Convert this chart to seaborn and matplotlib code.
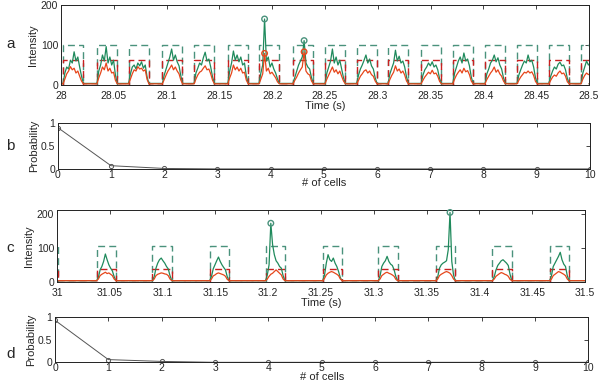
import numpy as np
import pandas as pd
import matplotlib
matplotlib.use('Agg')
import matplotlib.pyplot as plt
import seaborn as sns

# ---- panel a : intensity traces 28.0 - 28.5 s
a_gate_starts = [28.0019, 28.0340, 28.0640, 28.0960, 28.1260, 28.1580, 28.1875, 28.2197, 28.2500,
                 28.2800, 28.3097, 28.3410, 28.3710, 28.4015, 28.4318, 28.4620, 28.4924]
a_gate_width = 0.019
a_green_gate = 100
a_red_gate = 62
a_step = 0.00175
a_green_pulses = [
    [4, 30, 45, 40, 62, 55, 83, 60, 70, 45, 22, 4],
    [4, 35, 50, 75, 60, 96, 55, 70, 50, 62, 25, 4],
    [4, 28, 45, 50, 40, 55, 48, 58, 42, 50, 20, 4],
    [4, 25, 40, 55, 70, 90, 62, 75, 58, 48, 22, 4],
    [4, 30, 42, 55, 50, 68, 82, 60, 65, 45, 20, 4],
    [4, 35, 55, 85, 62, 75, 58, 70, 50, 55, 22, 4],
    [4, 30, 50, 165, 60, 70, 45, 55, 40, 30, 15, 4],
    [4, 20, 35, 50, 60, 70, 111, 55, 45, 40, 18, 4],
    [4, 30, 45, 60, 90, 55, 70, 50, 62, 40, 18, 4],
    [4, 25, 40, 50, 62, 75, 55, 65, 48, 40, 18, 4],
    [4, 28, 42, 55, 87, 60, 72, 55, 60, 45, 20, 4],
    [4, 25, 38, 45, 55, 48, 58, 45, 50, 38, 16, 4],
    [4, 30, 45, 60, 70, 55, 80, 60, 65, 48, 20, 4],
    [4, 28, 40, 55, 62, 75, 58, 68, 50, 40, 18, 4],
    [4, 25, 38, 50, 60, 55, 75, 58, 62, 45, 18, 4],
    [4, 22, 35, 45, 40, 52, 57, 48, 50, 38, 16, 4],
    [4, 30, 45, 60, 50, 55, 48, 50, 45, 35, 15, 4],
]
a_red_pulses = [
    [3, 15, 28, 35, 46, 38, 42, 30, 35, 22, 10, 3],
    [3, 18, 30, 45, 38, 55, 35, 42, 30, 32, 12, 3],
    [3, 15, 28, 38, 35, 46, 40, 42, 35, 38, 14, 3],
    [3, 14, 25, 35, 42, 50, 38, 45, 35, 28, 12, 3],
    [3, 15, 25, 32, 35, 42, 48, 38, 40, 28, 12, 3],
    [3, 18, 30, 50, 38, 45, 35, 42, 30, 32, 12, 3],
    [3, 15, 28, 79, 35, 42, 28, 32, 25, 18, 8, 3],
    [3, 12, 20, 30, 38, 45, 83, 35, 28, 25, 10, 3],
    [3, 15, 25, 35, 45, 32, 38, 28, 35, 22, 10, 3],
    [3, 12, 22, 28, 35, 38, 30, 35, 26, 22, 10, 3],
    [3, 14, 24, 32, 48, 35, 40, 30, 35, 25, 10, 3],
    [3, 12, 20, 26, 32, 28, 37, 28, 30, 22, 9, 3],
    [3, 15, 25, 32, 38, 30, 42, 33, 36, 26, 10, 3],
    [3, 14, 22, 30, 36, 45, 32, 38, 28, 22, 10, 3],
    [3, 12, 20, 26, 32, 30, 35, 30, 33, 24, 9, 3],
    [3, 12, 20, 25, 22, 30, 35, 28, 30, 22, 8, 3],
    [3, 15, 24, 30, 26, 28, 25, 26, 24, 18, 8, 3],
]
a_marked_green = [6, 7]
a_marked_red = [6, 7]

# ---- panel c : intensity traces 31.0 - 31.5 s
c_gate_starts = [30.9830, 31.0375, 31.0904, 31.1446, 31.1975, 31.2517, 31.3043, 31.3589, 31.4124, 31.4666]
c_pulse_starts = [31.0375, 31.0904, 31.1446, 31.1975, 31.2517, 31.3043, 31.3589, 31.4124, 31.4666]
c_gate_width = 0.0183
c_green_gate = 106
c_red_gate = 38
c_step = 0.00166
c_green_pulses = [
    [3, 12, 35, 45, 60, 82, 65, 50, 40, 32, 15, 3],
    [3, 15, 40, 55, 65, 70, 62, 55, 45, 38, 18, 3],
    [3, 15, 38, 50, 62, 73, 60, 50, 42, 35, 15, 3],
    [3, 20, 50, 173, 110, 80, 62, 55, 45, 40, 18, 3],
    [3, 20, 55, 80, 65, 60, 70, 55, 45, 30, 12, 3],
    [3, 18, 45, 55, 62, 75, 60, 52, 48, 35, 15, 3],
    [3, 15, 40, 50, 55, 58, 62, 95, 205, 60, 20, 3],
    [3, 15, 35, 48, 55, 62, 65, 60, 55, 48, 22, 3],
    [3, 18, 45, 55, 65, 75, 87, 65, 52, 45, 18, 3],
]
c_red_pulses = [
    [3, 8, 18, 22, 25, 28, 24, 26, 22, 18, 8, 3],
    [3, 8, 18, 22, 24, 26, 25, 23, 22, 18, 8, 3],
    [3, 8, 17, 20, 24, 26, 24, 22, 20, 16, 7, 3],
    [3, 8, 16, 22, 25, 30, 35, 30, 25, 20, 8, 3],
    [3, 10, 20, 25, 28, 30, 28, 25, 22, 18, 8, 3],
    [3, 8, 18, 22, 26, 28, 25, 23, 20, 16, 7, 3],
    [3, 8, 18, 22, 25, 28, 30, 28, 25, 18, 8, 3],
    [3, 8, 16, 20, 24, 27, 25, 22, 20, 16, 7, 3],
    [3, 8, 18, 22, 26, 30, 28, 25, 22, 18, 8, 3],
]
c_marked_green = [3, 6]

# ---- panels b, d : probability vs number of cells
n_cells = [0, 1, 2, 3, 4, 5, 6, 7, 8, 9, 10]
b_prob = [0.9, 0.07, 0.01, 0, 0, 0, 0, 0, 0, 0, 0]
d_prob = [0.93, 0.06, 0.02, 0, 0, 0, 0, 0, 0, 0, 0]

GREEN = '#1f8a5c'
RED = '#e6461b'
GREEN_DASH = '#4a927c'
RED_DASH = '#c82020'

sns.set_style('white')
plt.rcParams['font.family'] = ['Liberation Sans', 'DejaVu Sans']
plt.rcParams['font.size'] = 8


def trace_frame(starts, pulses, step, t0, t1, base=3):
    t = [t0]
    v = [base]
    for s, p in zip(starts, pulses):
        for k, val in enumerate(p):
            t.append(s + k * step)
            v.append(val)
    t.append(t1)
    v.append(base)
    return pd.DataFrame({'t': t, 'v': v})


def gate_frame(starts, width, level):
    t, v = [], []
    for s in starts:
        t += [s, s, s + width, s + width]
        v += [0, level, level, 0]
    return pd.DataFrame({'t': t, 'v': v})


def style_axes(ax, xpad):
    ax.tick_params(direction='in', top=True, right=True, length=3, width=0.6, labelsize=7.5)
    ax.tick_params(axis='y', pad=2)
    ax.tick_params(axis='x', pad=xpad)
    for sp in ax.spines.values():
        sp.set_visible(True)
        sp.set_color('#222222')
        sp.set_linewidth(0.7)


def intensity_panel(ax, gate_starts, pulse_starts, width, step, green_p, red_p,
                    g_level, r_level, t0, t1, ytop, yticks, mk_green, mk_red):
    gg = gate_frame(gate_starts, width, g_level)
    rg = gate_frame(gate_starts, width, r_level)
    sns.lineplot(data=gg, x='t', y='v', ax=ax, sort=False, estimator=None,
                 color=GREEN_DASH, linestyle=(0, (5, 3)), linewidth=1.0)
    sns.lineplot(data=rg, x='t', y='v', ax=ax, sort=False, estimator=None,
                 color=RED_DASH, linestyle=(0, (5, 3)), linewidth=1.0)
    gtr = trace_frame(pulse_starts, green_p, step, t0, t1)
    rtr = trace_frame(pulse_starts, red_p, step, t0, t1)
    sns.lineplot(data=gtr, x='t', y='v', ax=ax, sort=False, estimator=None, color=GREEN, linewidth=0.9)
    sns.lineplot(data=rtr, x='t', y='v', ax=ax, sort=False, estimator=None, color=RED, linewidth=0.9)
    # circles on the spikes
    for idx_list, pulses, col in [(mk_green, green_p, GREEN_DASH), (mk_red, red_p, RED)]:
        if not idx_list:
            continue
        xs = [pulse_starts[i] + int(np.argmax(pulses[i])) * step for i in idx_list]
        ys = [max(pulses[i]) for i in idx_list]
        sns.scatterplot(x=xs, y=ys, ax=ax, marker='o', s=16, facecolors='none',
                        edgecolor=col, linewidth=1.0, zorder=5, clip_on=False)
    ax.set_xlim(t0, t1)
    ax.set_ylim(0, ytop)
    xt = np.round(np.arange(t0, t1 + 0.001, 0.05), 2)
    ax.set_xticks(xt)
    ax.set_xticklabels([f'{x:g}' for x in xt])
    ax.set_yticks(yticks)
    ax.set_yticklabels([f'{y:g}' for y in yticks])
    ax.set_xlabel('Time (s)', labelpad=0)
    ax.set_ylabel('Intensity', labelpad=2)
    style_axes(ax, 4.5)


def prob_panel(ax, probs):
    sns.lineplot(x=n_cells, y=probs, ax=ax, color='#555555', linewidth=0.7,
                 marker='o', markersize=3, markerfacecolor='none',
                 markeredgecolor='#555555', markeredgewidth=0.7)
    ax.set_xlim(0, 10)
    ax.set_ylim(0, 1)
    ax.set_xticks(n_cells)
    ax.set_yticks([0, 0.5, 1])
    ax.set_yticklabels(['0', '0.5', '1'])
    ax.set_xlabel('# of cells', labelpad=-1)
    ax.set_ylabel('Probability', labelpad=1)
    style_axes(ax, 0.5)


fig = plt.figure(figsize=(6.0, 3.83), dpi=100)
ax_a = fig.add_axes([0.1017, 0.778, 0.880, 0.209])
ax_b = fig.add_axes([0.0962, 0.559, 0.887, 0.120])
ax_c = fig.add_axes([0.0950, 0.2645, 0.880, 0.187])
ax_d = fig.add_axes([0.0917, 0.054, 0.889, 0.118])

intensity_panel(ax_a, a_gate_starts, a_gate_starts, a_gate_width, a_step, a_green_pulses, a_red_pulses,
                a_green_gate, a_red_gate, 28.0, 28.5, 200, [0, 100, 200], a_marked_green, a_marked_red)
intensity_panel(ax_c, c_gate_starts, c_pulse_starts, c_gate_width, c_step, c_green_pulses, c_red_pulses,
                c_green_gate, c_red_gate, 31.0, 31.5, 212, [0, 100, 200], c_marked_green, [])
prob_panel(ax_b, b_prob)
prob_panel(ax_d, d_prob)

for letter, y in [('a', 0.875), ('b', 0.608), ('c', 0.342), ('d', 0.065)]:
    fig.text(0.01, y, letter, fontsize=11)

fig.savefig('out.png', dpi=100)
